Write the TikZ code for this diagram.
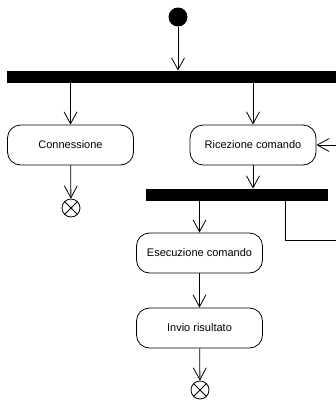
\documentclass[tikz,border=0pt]{standalone}
\usepackage{fontspec}
\setmainfont{Liberation Sans}
\usetikzlibrary{arrows.meta}

\begin{document}
\begin{tikzpicture}[x=1pt, y=-1pt, line width=0.8pt,
    action/.style={rectangle, rounded corners=13pt, draw, minimum width=126pt, minimum height=40pt,
      inner sep=0pt, font=\fontsize{11}{13}\selectfont},
    bar/.style={rectangle, fill=black, minimum height=12pt, inner sep=0pt},
    initial/.style={circle, fill=black, minimum size=19pt, inner sep=0pt},
    final/.style={circle, draw, minimum size=18pt, inner sep=0pt,
      path picture={\draw (path picture bounding box.north west) -- (path picture bounding box.south east)
        (path picture bounding box.north east) -- (path picture bounding box.south west);}},
    flow/.style={-{Straight Barb[length=12pt, width=13pt]}}
  ]
  \useasboundingbox (0,0) rectangle (336,402);

  \node[initial] (start) at (178,17) {};
  \node[bar, minimum width=338pt] (fork1) at (176,77) {};
  \node[action] (conn) at (70.5,145) {Connessione};
  \node[action] (recv) at (253,145) {Ricezione comando};
  \node[final] (end1) at (71,208) {};
  \node[bar, minimum width=182pt] (fork2) at (237,195) {};
  \node[action] (exec) at (199.5,253) {Esecuzione comando};
  \node[action] (send) at (199.5,328) {Invio risultato};
  \node[final] (end2) at (200,390) {};
  \coordinate (loopdown) at (285,240);
  \coordinate (loopright) at (345,240);

  \draw[flow] (start) -- (start |- fork1.north);
  \draw[flow] (conn |- fork1.south) -- (conn);
  \draw[flow] (recv |- fork1.south) -- (recv);
  \draw[flow] (conn) -- (end1);
  \draw[flow] (recv) -- (recv |- fork2.north);
  \draw[flow] (exec |- fork2.south) -- (exec);
  \draw[flow] (exec) -- (send);
  \draw[flow] (send) -- (end2);
  \draw[flow] (loopdown |- fork2.south) -- (loopdown) -- (loopright) |- (recv.east);
\end{tikzpicture}
\end{document}
